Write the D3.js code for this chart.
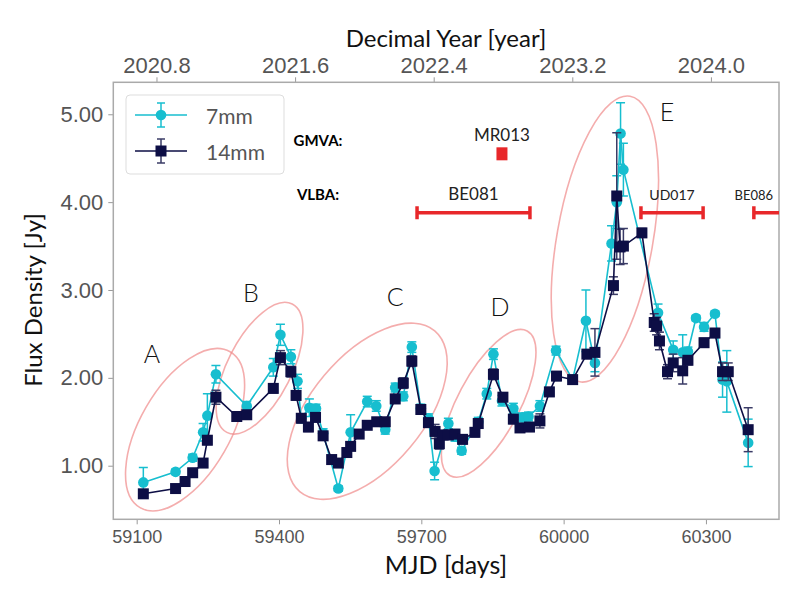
<!DOCTYPE html>
<html>
<head>
<meta charset="utf-8">
<script src="https://cdn.jsdelivr.net/npm/d3@7"></script>
<style>
  body { margin: 0; background: #fff; }
  svg { font-family: Lato, "Open Sans", sans-serif; }
</style>
</head>
<body>
<svg id="chart"></svg>
<script>
// 7mm light curve (MJD, flux density in Jy, error)
const mjd7 = [59114, 59182, 59218, 59240, 59249, 59267, 59332, 59388, 59403, 59425, 59439, 59447, 59464, 59478, 59493, 59525, 59551, 59586, 59605, 59624, 59645, 59662, 59680, 59699, 59715, 59728, 59757, 59771, 59785, 59820, 59838, 59852, 59870, 59894, 59914, 59926, 59950, 59984, 60019, 60047, 60066, 60101, 60112, 60120, 60126, 60199, 60231, 60251, 60262, 60279, 60296, 60319, 60335, 60344, 60389];
const flux7 = [0.81, 0.93, 1.09, 1.38, 1.57, 2.04, 1.68, 2.12, 2.49, 2.24, 1.96, 1.54, 1.66, 1.65, 1.37, 0.74, 1.38, 1.73, 1.68, 1.41, 1.89, 1.79, 2.35, 1.65, 1.54, 0.94, 1.48, 1.33, 1.17, 1.50, 1.82, 2.27, 1.74, 1.65, 1.55, 1.56, 1.68, 2.31, 1.98, 2.65, 2.17, 3.53, 4.00, 4.78, 4.37, 2.74, 2.32, 2.29, 2.30, 2.68, 2.58, 2.73, 1.98, 1.96, 1.26];
const err7 = [0.17, 0.03, 0.04, 0.10, 0.25, 0.10, 0.05, 0.10, 0.12, 0.08, 0.08, 0.05, 0.10, 0.05, 0.05, 0.03, 0.20, 0.06, 0.06, 0.05, 0.05, 0.05, 0.06, 0.05, 0.05, 0.10, 0.06, 0.05, 0.04, 0.05, 0.06, 0.06, 0.06, 0.06, 0.05, 0.05, 0.06, 0.05, 0.04, 0.35, 0.10, 0.20, 0.30, 0.35, 0.30, 0.10, 0.10, 0.20, 0.05, 0.03, 0.05, 0.03, 0.20, 0.35, 0.27];

// 14mm light curve
const mjd14 = [59114, 59182, 59202, 59218, 59240, 59249, 59267, 59311, 59332, 59388, 59403, 59425, 59436, 59447, 59462, 59477, 59493, 59511, 59525, 59543, 59551, 59569, 59586, 59606, 59624, 59645, 59662, 59680, 59699, 59715, 59729, 59738, 59746, 59757, 59771, 59787, 59813, 59820, 59852, 59872, 59894, 59908, 59928, 59950, 59970, 59985, 60019, 60049, 60066, 60105, 60112, 60119, 60126, 60165, 60191, 60196, 60202, 60219, 60231, 60251, 60262, 60296, 60319, 60335, 60347, 60389];
const flux14 = [0.68, 0.74, 0.82, 0.92, 1.03, 1.29, 1.78, 1.56, 1.58, 1.88, 2.23, 2.07, 1.80, 1.54, 1.44, 1.55, 1.34, 1.07, 1.03, 1.15, 1.22, 1.36, 1.46, 1.50, 1.50, 1.76, 1.94, 2.19, 1.64, 1.49, 1.39, 1.25, 1.35, 1.35, 1.36, 1.30, 1.38, 1.48, 2.04, 1.78, 1.53, 1.43, 1.44, 1.51, 1.84, 2.02, 1.98, 2.27, 2.29, 3.05, 4.07, 3.49, 3.50, 3.65, 2.63, 2.59, 2.42, 2.07, 2.17, 2.08, 2.20, 2.40, 2.51, 2.07, 2.07, 1.41];
const err14 = [0.04, 0.03, 0.03, 0.04, 0.04, 0.05, 0.08, 0.04, 0.04, 0.05, 0.08, 0.06, 0.05, 0.05, 0.05, 0.05, 0.04, 0.03, 0.03, 0.04, 0.04, 0.04, 0.04, 0.04, 0.04, 0.05, 0.06, 0.06, 0.05, 0.05, 0.08, 0.06, 0.05, 0.05, 0.05, 0.05, 0.05, 0.05, 0.06, 0.05, 0.05, 0.04, 0.04, 0.08, 0.05, 0.05, 0.04, 0.05, 0.27, 0.10, 0.72, 0.20, 0.20, 0.05, 0.10, 0.10, 0.10, 0.08, 0.10, 0.15, 0.05, 0.05, 0.05, 0.10, 0.10, 0.25];

// flare labels
const flareNames = ["A", "B", "C", "D", "E"];
const flareMjd = [59202, 59359, 59586, 59842, 60087];
const flareFlux = [1.41, 2.11, 1.62, 1.71, 3.58];
const flareLabelMjd = [59132, 59341, 59645, 59866, 60218];
const flareLabelFlux = [2.28, 2.98, 2.93, 2.82, 5.04];

// observing campaigns
const campNames = ["BE081", "UD017", "BE086"];
const campStart = [59691, 60163, 60401];
const campEnd = [59929, 60294, 60540];
const gmvaName = "MR013";
const gmvaMjd = 59870;

const xTicks = [59100, 59400, 59700, 60000, 60300];
const yTicks = [1, 2, 3, 4, 5];
const yearTicks = [2020.8, 2021.6, 2022.4, 2023.2, 2024.0];

let width = 800, height = 600;
let svg = d3.select("#chart").attr("width", width).attr("height", height);

const cyan = "#17becf";
const navy = "#0d0e45";
const red = "#e8272a";
const grey = "#555";

let x = d3.scaleLinear().domain([59050.7, 60454]).range([113.3, 779]);
let y = d3.scaleLinear().domain([0.39, 5.364]).range([519.3, 82.3]);
let toYear = m => 2000 + (m - 51544.5) / 365.25;
let xTop = d3.scaleLinear().domain(x.domain().map(toYear)).range(x.range());

svg.append("defs").append("clipPath").attr("id", "clip")
  .append("rect").attr("x", 113.3).attr("y", 82.3).attr("width", 779 - 113.3).attr("height", 519.3 - 82.3);

// axes
let bottomAxis = svg.append("g").attr("transform", "translate(0,519.3)")
  .call(d3.axisBottom(x).tickValues(xTicks).tickFormat(d3.format("d")).tickSize(5).tickPadding(6));
bottomAxis.selectAll("text").style("font-size", "18px").attr("fill", grey);

let topAxis = svg.append("g").attr("transform", "translate(0,82.3)")
  .call(d3.axisTop(xTop).tickValues(yearTicks).tickFormat(d3.format(".1f")).tickSize(5).tickPadding(4));
topAxis.selectAll("text").style("font-size", "22px").attr("fill", grey);

let leftAxis = svg.append("g").attr("transform", "translate(113.3,0)")
  .call(d3.axisLeft(y).tickValues(yTicks).tickFormat(d3.format(".2f")).tickSize(5).tickPadding(5));
leftAxis.selectAll("text").style("font-size", "22px").attr("fill", grey);

svg.selectAll(".domain").remove();
svg.selectAll(".tick line").attr("stroke", "#999");

// frame
svg.append("rect").attr("x", 113.3).attr("y", 82.3)
  .attr("width", 779 - 113.3).attr("height", 519.3 - 82.3)
  .attr("fill", "none").attr("stroke", "#aaa").attr("stroke-width", 1.5);

// axis titles
svg.append("text").attr("x", 446).attr("y", 574).attr("text-anchor", "middle")
  .style("font-size", "25px").attr("fill", "#111").text("MJD [days]");
svg.append("text").attr("x", 446).attr("y", 47).attr("text-anchor", "middle")
  .style("font-size", "24px").attr("fill", "#111").text("Decimal Year [year]");
svg.append("text").attr("transform", "translate(42,300) rotate(-90)").attr("text-anchor", "middle")
  .style("font-size", "24px").attr("fill", "#111").text("Flux Density [Jy]");

let plot = svg.append("g").attr("clip-path", "url(#clip)");

// flare ellipses
let ellipseShape = [
  { rx: 90, ry: 45, rot: -60 },
  { rx: 72, ry: 32, rot: -63 },
  { rx: 105, ry: 56, rot: -50 },
  { rx: 82, ry: 31, rot: -62 },
  { rx: 145, ry: 48, rot: -80 }
];
plot.selectAll("ellipse.flare")
  .data(flareNames)
  .enter()
  .append("ellipse")
  .attr("transform", (d, i) => "translate(" + x(flareMjd[i]) + "," + y(flareFlux[i]) + ") rotate(" + ellipseShape[i].rot + ")")
  .attr("rx", (d, i) => ellipseShape[i].rx)
  .attr("ry", (d, i) => ellipseShape[i].ry)
  .attr("fill", "none")
  .attr("stroke", "#f08a8a")
  .attr("stroke-opacity", 0.7)
  .attr("stroke-width", 1.6);

svg.selectAll("text.flare")
  .data(flareNames)
  .enter()
  .append("text")
  .attr("x", (d, i) => x(flareLabelMjd[i]))
  .attr("y", (d, i) => y(flareLabelFlux[i]))
  .attr("text-anchor", "middle")
  .attr("dominant-baseline", "central")
  .style("font-size", "25px")
  .style("font-weight", 300)
  .attr("fill", "#111")
  .text(d => d);

// campaign annotations
svg.append("text").attr("x", 318).attr("y", 146).attr("text-anchor", "middle")
  .style("font-size", "15px").style("font-weight", "bold").attr("fill", "#000").text("GMVA:");
svg.append("text").attr("x", 318).attr("y", 200).attr("text-anchor", "middle")
  .style("font-size", "15px").style("font-weight", "bold").attr("fill", "#000").text("VLBA:");

plot.append("rect").attr("x", x(gmvaMjd) - 5.5).attr("y", y(4.55) - 6.5)
  .attr("width", 11).attr("height", 13).attr("fill", red);
svg.append("text").attr("x", x(gmvaMjd)).attr("y", y(4.55) - 13).attr("text-anchor", "middle")
  .style("font-size", "17px").attr("fill", "#222").text(gmvaName);

let campY = y(3.88);
let camp = plot.selectAll("g.camp").data(campNames).enter().append("g");
camp.append("line")
  .attr("x1", (d, i) => x(campStart[i])).attr("x2", (d, i) => x(campEnd[i]))
  .attr("y1", campY).attr("y2", campY)
  .attr("stroke", red).attr("stroke-width", 3.5);
camp.append("line")
  .attr("x1", (d, i) => x(campStart[i])).attr("x2", (d, i) => x(campStart[i]))
  .attr("y1", campY - 6.5).attr("y2", campY + 6.5)
  .attr("stroke", red).attr("stroke-width", 3.5);
camp.append("line")
  .attr("x1", (d, i) => x(campEnd[i])).attr("x2", (d, i) => x(campEnd[i]))
  .attr("y1", campY - 6.5).attr("y2", campY + 6.5)
  .attr("stroke", red).attr("stroke-width", 3.5);

// campaign labels (not clipped, BE086 sits past the right edge)
let campFont = [17, 14, 13];
svg.selectAll("text.camp").data(campNames).enter().append("text")
  .attr("x", (d, i) => i === 2 ? x(campStart[i]) : (x(campStart[i]) + x(campEnd[i])) / 2)
  .attr("y", campY - 13)
  .attr("text-anchor", "middle")
  .style("font-size", (d, i) => campFont[i] + "px")
  .attr("fill", "#222")
  .text(d => d);

// series drawing
function drawSeries(mjd, flux, err, color, errColor, shape) {
  let pts = mjd.map((m, i) => ({ m: m, f: flux[i], e: err[i] }));
  let g = plot.append("g");
  g.selectAll("line.err").data(pts).enter().append("line")
    .attr("x1", d => x(d.m)).attr("x2", d => x(d.m))
    .attr("y1", d => y(d.f - d.e)).attr("y2", d => y(d.f + d.e))
    .attr("stroke", errColor).attr("stroke-width", 1.5);
  [-1, 1].forEach(s => {
    g.selectAll("line.cap" + s).data(pts).enter().append("line")
      .attr("x1", d => x(d.m) - 4.5).attr("x2", d => x(d.m) + 4.5)
      .attr("y1", d => y(d.f + s * d.e)).attr("y2", d => y(d.f + s * d.e))
      .attr("stroke", errColor).attr("stroke-width", 1.5);
  });
  g.append("path").datum(pts)
    .attr("d", d3.line().x(d => x(d.m)).y(d => y(d.f)))
    .attr("fill", "none").attr("stroke", color).attr("stroke-width", 1.6);
  if (shape === "circle") {
    g.selectAll("circle").data(pts).enter().append("circle")
      .attr("cx", d => x(d.m)).attr("cy", d => y(d.f)).attr("r", 5.3).attr("fill", color);
  } else {
    g.selectAll("rect").data(pts).enter().append("rect")
      .attr("x", d => x(d.m) - 5.5).attr("y", d => y(d.f) - 5.5)
      .attr("width", 11).attr("height", 11).attr("fill", color);
  }
}

drawSeries(mjd7, flux7, err7, cyan, cyan, "circle");
drawSeries(mjd14, flux14, err14, navy, "#3a3b66", "square");

// legend
let lg = svg.append("g");
lg.append("rect").attr("x", 126).attr("y", 95).attr("width", 158).attr("height", 79)
  .attr("rx", 4).attr("fill", "#fff").attr("fill-opacity", 0.8).attr("stroke", "#ddd");
let legendRows = [
  { label: "7mm", color: cyan, errColor: cyan, shape: "circle", yy: 115 },
  { label: "14mm", color: navy, errColor: "#3a3b66", shape: "square", yy: 151 }
];
legendRows.forEach(r => {
  lg.append("line").attr("x1", 135).attr("x2", 187).attr("y1", r.yy).attr("y2", r.yy)
    .attr("stroke", r.color).attr("stroke-width", 1.6);
  lg.append("line").attr("x1", 161).attr("x2", 161).attr("y1", r.yy - 12).attr("y2", r.yy + 12)
    .attr("stroke", r.errColor).attr("stroke-width", 1.5);
  [-12, 12].forEach(o => lg.append("line").attr("x1", 157).attr("x2", 165)
    .attr("y1", r.yy + o).attr("y2", r.yy + o).attr("stroke", r.errColor).attr("stroke-width", 1.5));
  if (r.shape === "circle") {
    lg.append("circle").attr("cx", 161).attr("cy", r.yy).attr("r", 5.3).attr("fill", r.color);
  } else {
    lg.append("rect").attr("x", 155.5).attr("y", r.yy - 5.5).attr("width", 11).attr("height", 11).attr("fill", r.color);
  }
  lg.append("text").attr("x", 206).attr("y", r.yy).attr("dominant-baseline", "central")
    .style("font-size", "21px").attr("fill", grey).text(r.label);
});
</script>
</body>
</html>
